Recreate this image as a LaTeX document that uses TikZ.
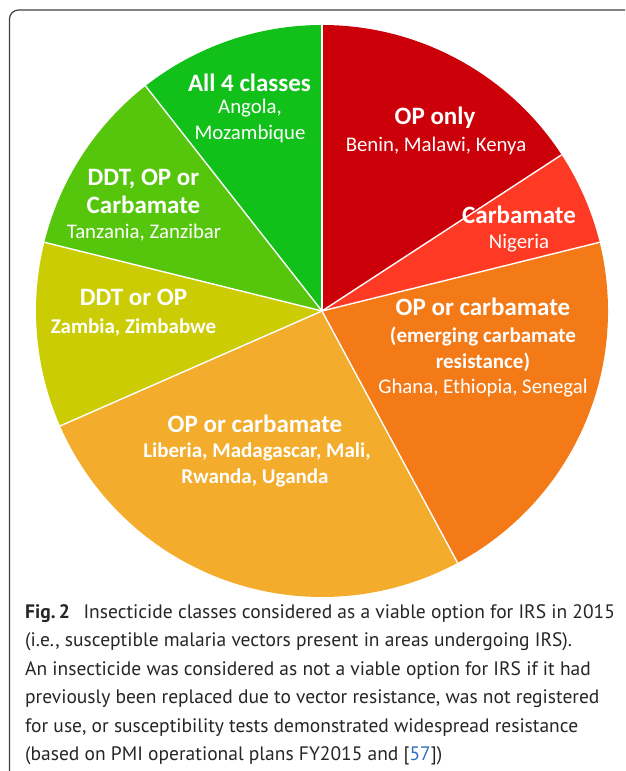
\documentclass[tikz,border=0pt]{standalone}
\usepackage{fontspec}
\setmainfont{Carlito}
\newfontfamily\capfont{PT Sans}
\definecolor{cAll}{HTML}{11C11A}
\definecolor{cDOC}{HTML}{56C60C}
\definecolor{cDO}{HTML}{CCCC04}
\definecolor{cOC}{HTML}{F3AC2B}
\definecolor{cEm}{HTML}{F37A17}
\definecolor{cCa}{HTML}{FF3A24}
\definecolor{cOP}{HTML}{CC0009}
\definecolor{framecol}{HTML}{404040}
\definecolor{linkcol}{HTML}{2F6FC0}
\tikzset{
  hd/.style={font=\bfseries\fontsize{25}{25}\selectfont, text=white, anchor=base, inner sep=0pt},
  ct/.style={font=\fontsize{20.8}{20.8}\selectfont, text=white, anchor=base, inner sep=0pt},
  cb/.style={font=\bfseries\fontsize{21}{21}\selectfont, text=white, anchor=base, inner sep=0pt},
  capline/.style={font=\capfont\fontsize{19.5}{19.5}\selectfont, text=black!85, anchor=base west, inner sep=0pt},
  sep/.style={draw=white, line width=1.4pt},
}
\begin{document}
\begin{tikzpicture}[x=1pt,y=-1pt]
\useasboundingbox (0,0) rectangle (625,771);
\clip (0,0) rectangle (625,771);
\fill[white] (0,0) rectangle (625,771);
\draw[framecol, line width=1.2pt, rounded corners=9pt] (9.5,10) rectangle (680,790);
% pie
\begin{scope}[shift={(322,311)}, y=1pt]
  \fill[cAll] (0,0) -- (90:286) arc[start angle=90, end angle=128.1, radius=286] -- cycle;
  \fill[cDOC] (0,0) -- (128.1:286) arc[start angle=128.1, end angle=166.1, radius=286] -- cycle;
  \fill[cDO] (0,0) -- (166.1:286) arc[start angle=166.1, end angle=203.7, radius=286] -- cycle;
  \fill[cOC] (0,0) -- (203.7:286) arc[start angle=203.7, end angle=298.3, radius=286] -- cycle;
  \fill[cEm] (0,0) -- (298.3:286) arc[start angle=298.3, end angle=373.9, radius=286] -- cycle;
  \fill[cCa] (0,0) -- (13.9:286) arc[start angle=13.9, end angle=33.1, radius=286] -- cycle;
  \fill[cOP] (0,0) -- (33.1:286) arc[start angle=33.1, end angle=90, radius=286] -- cycle;
  \foreach \a in {90,128.1,166.1,203.7,298.3,13.9,33.1}
    \draw[sep] (0,0) -- (\a:286);
\end{scope}
% labels
\node[hd] (opH) at (435,124) {OP only};
\node[ct] (opC) at (436,151) {Benin, Malawi, Kenya};
\node[hd] (caH) at (519,223) {Carbamate};
\node[ct] (caC) at (519,248) {Nigeria};
\node[hd] (alH) at (249.5,91) {All 4 classes};
\node[ct] (alC1) at (250,113) {Angola,};
\node[ct] (alC2) at (250,139) {Mozambique};
\node[hd] (docH1) at (143.5,185) {DDT, OP or};
\node[hd] (docH2) at (143.5,213) {Carbamate};
\node[ct] (docC) at (144,238) {Tanzania, Zanzibar};
\node[hd] (doH) at (133.5,305) {DDT or OP};
\node[cb] (doC) at (133.5,333) {Zambia, Zimbabwe};
\node[hd] (emH) at (483,315) {OP or carbamate};
\node[cb] (emS1) at (483,342) {(emerging carbamate};
\node[cb] (emS2) at (483,368) {resistance)};
\node[ct] (emC) at (483,393) {Ghana, Ethiopia, Senegal};
\node[hd] (ocH) at (255,432) {OP or carbamate};
\node[cb] (ocC1) at (257,457) {Liberia, Madagascar, Mali,};
\node[cb] (ocC2) at (255,483) {Rwanda, Uganda};
% caption
\node[capline] (cap1) at (25,618) {\textbf{Fig.\,2}\hspace{0.7em}Insecticide classes considered as a viable option for IRS in 2015};
\node[capline] (cap2) at (25,646.5) {(i.e., susceptible malaria vectors present in areas undergoing IRS).};
\node[capline] (cap3) at (25,675) {An insecticide was considered as not a viable option for IRS if it had};
\node[capline] (cap4) at (25,703.5) {previously been replaced due to vector resistance, was not registered};
\node[capline] (cap5) at (25,732) {for use, or susceptibility tests demonstrated widespread resistance};
\node[capline] (cap6) at (25,760.5) {(based on PMI operational plans FY2015 and [\textcolor{linkcol}{57}])};
\end{tikzpicture}
\end{document}
